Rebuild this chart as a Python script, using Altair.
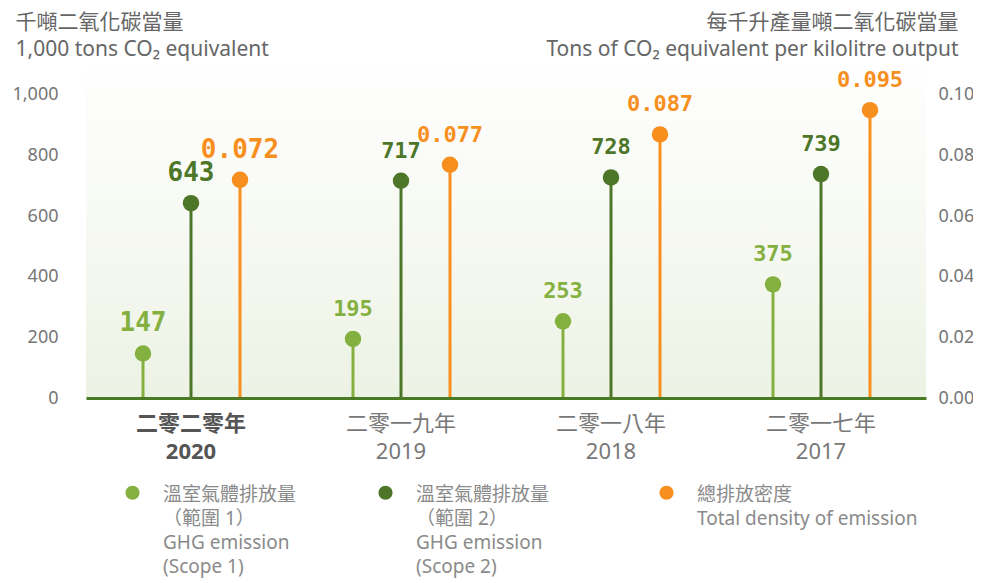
import altair as alt
import pandas as pd

years = ["2020", "2019", "2018", "2017"]
years_cn = ["二零二零年", "二零一九年", "二零一八年", "二零一七年"]
scope1 = [147, 195, 253, 375]
scope2 = [643, 717, 728, 739]
density = [0.072, 0.077, 0.087, 0.095]
left_ticks = [0, 200, 400, 600, 800, 1000]
right_ticks = [0.0, 0.02, 0.04, 0.06, 0.08, 0.10]

series_names = [
    "溫室氣體排放量|（範圍 1）|GHG emission|(Scope 1)",
    "溫室氣體排放量\u2800\u2800|（範圍 2）|GHG emission|(Scope 2)",
    "總排放密度|Total density of emission|\u2800|\u2800",
]
colors = ["#84b03f", "#4d7628", "#f78f1e"]

FONT = "Noto Sans, Noto Sans CJK TC"
NUMFONT = "DejaVu Sans Mono"

xlabels = [c + "|" + y for c, y in zip(years_cn, years)]
df = pd.DataFrame({"xlab": xlabels, "year": years, "s1": scope1, "s2": scope2, "dens": density})

W, H = 840, 343
LEFT_MAX = 1132
RIGHT_MAX = 0.1132

x_enc = alt.X(
    "xlab:N",
    sort=xlabels,
    scale=alt.Scale(paddingInner=0, paddingOuter=0),
    axis=alt.Axis(
        title=None,
        labelExpr="split(datum.label, '|')",
        labelAngle=0,
        labelFontSize=22,
        labelLineHeight=28,
        labelPadding=15,
        labelBaseline="top",
        labelColor=alt.expr("indexof(datum.value, '2020') >= 0 ? '#555555' : '#787878'"),
        labelFontWeight=alt.expr("indexof(datum.value, '2020') >= 0 ? 'bold' : 'normal'"),
        ticks=False,
        domainColor="#4a7a23",
        domainWidth=3,
        grid=False,
        zindex=1,
    ),
)

y_left = alt.Y(
    "v:Q",
    scale=alt.Scale(domain=[0, LEFT_MAX], nice=False),
    axis=alt.Axis(
        values=left_ticks,
        format=",.0f",
        title=["千噸二氧化碳當量", "1,000 tons CO₂ equivalent"],
        titleAngle=0,
        titleAlign="left",
        titleBaseline="top",
        titleX=-71,
        titleY=-44,
        titleFontSize=21,
        titleFontWeight="normal",
        titleColor="#666666",
        titleLineHeight=27,
        labelFontSize=18,
        labelColor="#767676",
        labelPadding=28,
        ticks=False,
        domain=False,
        grid=False,
        zindex=1,
    ),
)

y_right = alt.Y(
    "v:Q",
    scale=alt.Scale(domain=[0, RIGHT_MAX], nice=False),
    axis=alt.Axis(
        orient="right",
        values=right_ticks,
        format=".2f",
        title=["每千升產量噸二氧化碳當量", "Tons of CO₂ equivalent per kilolitre output"],
        titleAngle=0,
        titleAlign="right",
        titleBaseline="top",
        titleX=32,
        titleY=-44,
        titleFontSize=21,
        titleFontWeight="normal",
        titleColor="#666666",
        titleLineHeight=27,
        labelFontSize=18,
        labelColor="#767676",
        labelPadding=12,
        ticks=False,
        domain=False,
        grid=False,
        zindex=1,
    ),
)

color_enc = alt.Color(
    "series:N",
    scale=alt.Scale(domain=series_names, range=colors),
    legend=alt.Legend(
        title=None,
        orient="none",
        legendX=37,
        legendY=421,
        direction="horizontal",
        columns=3,
        columnPadding=79,
        labelExpr="split(datum.label, '|')",
        labelFontSize=19,
        labelColor="#8a8a8a",
        labelBaseline="top",
        labelOffset=21,
        labelLimit=400,
        symbolType="M -1 1 A 1 1 0 1 0 1 1 A 1 1 0 1 0 -1 1 Z",
        symbolSize=196,
        symbolStrokeWidth=0,
        symbolOpacity=1,
        padding=0,
    ),
)

gradient = alt.LinearGradient(
    gradient="linear",
    stops=[
        alt.GradientStop(color="#ffffff", offset=0),
        alt.GradientStop(color="#f5f8f0", offset=0.6),
        alt.GradientStop(color="#ecf2e4", offset=1),
    ],
    x1=0, x2=0, y1=0, y2=1,
)

bg = alt.Chart(pd.DataFrame({"a": [0]})).mark_rect(color=gradient).encode(
    x=alt.value(0), x2=alt.value(W), y=alt.value(0), y2=alt.value(H)
)


def series_layers(field, name, offset, yenc, fmt):
    base = alt.Chart(df).transform_calculate(series=f"'{name}'", v=f"datum.{field}")
    rule = base.mark_rule(strokeWidth=3, xOffset=offset).encode(
        x=x_enc, y=yenc, y2=alt.datum(0), color=color_enc
    )
    pt = base.mark_point(filled=True, opacity=1, size=270, xOffset=offset, shape="circle").encode(
        x=x_enc, y=yenc, color=color_enc
    )
    txt = base.mark_text(
        font=NUMFONT, fontWeight="bold", xOffset=offset, dy=-30, baseline="middle", align="center"
    ).encode(
        x=x_enc,
        y=yenc,
        text=alt.Text("v:Q", format=fmt),
        color=color_enc,
        size=alt.condition("datum.year == '2020'", alt.value(26), alt.value(22)),
    )
    return [rule, pt, txt]


left = alt.layer(
    bg,
    *series_layers("s1", series_names[0], -48, y_left, "d"),
    *series_layers("s2", series_names[1], 0, y_left, "d"),
)
right = alt.layer(*series_layers("dens", series_names[2], 49, y_right, ".3f"))

chart = (
    alt.layer(left, right)
    .resolve_scale(y="independent")
    .properties(
        width=W,
        height=H,
        autosize=alt.AutoSizeParams(type="none"),
        padding={"left": 78, "top": 47, "right": 47, "bottom": 182},
    )
    .configure(font=FONT, style={"guide-label": {"lineHeight": 24}})
    .configure_view(stroke=None)
)

chart.save("out.html", embed_options={"renderer": "svg", "actions": False})
